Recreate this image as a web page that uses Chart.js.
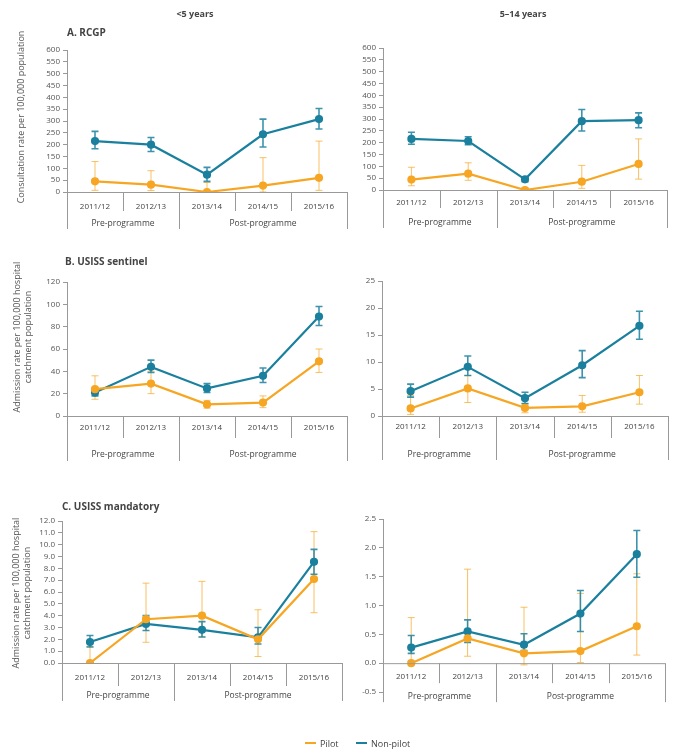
<!DOCTYPE html>
<html>
<head>
<meta charset="utf-8">
<script src="https://cdn.jsdelivr.net/npm/chart.js@4.4.0/dist/chart.umd.min.js"></script>
<style>
  body { margin: 0; background: #fff; font-family: "Open Sans", sans-serif; color: #333; }
  #page { position: relative; width: 676px; height: 755px; overflow: hidden; }
  #page canvas { position: absolute; left: 0; top: 0; }
  .t { position: absolute; white-space: nowrap; }
  .c { transform: translate(-50%, -50%); }
  .head { font-size: 9px; font-weight: bold; color: #444; }
  .panel { font-size: 10px; font-weight: bold; color: #444; transform: translateY(-50%); }
  .ytitle { font-size: 9px; color: #555; text-align: center; line-height: 11px; transform: translate(-50%, -50%) rotate(-90deg); }
  .leg { font-size: 9px; color: #444; transform: translateY(-50%); }
  .legline { position: absolute; height: 2px; width: 11px; }
</style>
</head>
<body>
<div id="page">
  <canvas id="aLeft" width="676" height="755"></canvas>
  <canvas id="aRight" width="676" height="755"></canvas>
  <canvas id="bLeft" width="676" height="755"></canvas>
  <canvas id="bRight" width="676" height="755"></canvas>
  <canvas id="cLeft" width="676" height="755"></canvas>
  <canvas id="cRight" width="676" height="755"></canvas>

  <div class="t c head" style="left:195px;top:13px">&lt;5 years</div>
  <div class="t c head" style="left:523px;top:13px">5–14 years</div>
  <div class="t panel" style="left:67px;top:32px">A. RCGP</div>
  <div class="t panel" style="left:65px;top:261px">B. USISS sentinel</div>
  <div class="t panel" style="left:62px;top:506px">C. USISS mandatory</div>
  <div class="t ytitle" style="left:20px;top:117px">Consultation rate per 100,000 population</div>
  <div class="t ytitle" style="left:22px;top:337px">Admission rate per 100,000 hospital<br>catchment population</div>
  <div class="t ytitle" style="left:21px;top:593px">Admission rate per 100,000 hospital<br>catchment population</div>

  <div class="legline" style="left:305px;top:742px;background:#f6a623"></div>
  <div class="t leg" style="left:320px;top:743px">Pilot</div>
  <div class="legline" style="left:356px;top:742px;background:#1b809e"></div>
  <div class="t leg" style="left:371px;top:743px">Non-pilot</div>
</div>

<script>
const categories = ["2011/12", "2012/13", "2013/14", "2014/15", "2015/16"];
const periods = ["Pre-programme", "Post-programme"];
const periodSpans = [2, 3];

// A. RCGP, <5 years
const rcgpU5Pilot = [45, 31, 0, 27, 60];
const rcgpU5PilotLow = [7, 6, 0, 0, 7];
const rcgpU5PilotHigh = [129, 90, 40, 145, 215];
const rcgpU5Non = [215, 200, 73, 244, 308];
const rcgpU5NonLow = [183, 171, 45, 190, 266];
const rcgpU5NonHigh = [256, 230, 104, 308, 353];

// A. RCGP, 5-14 years
const rcgp514Pilot = [44, 69, 0, 35, 110];
const rcgp514PilotLow = [18, 41, 0, 7, 46];
const rcgp514PilotHigh = [96, 115, 10, 104, 216];
const rcgp514Non = [216, 207, 45, 291, 295];
const rcgp514NonLow = [193, 191, 35, 249, 263];
const rcgp514NonHigh = [244, 225, 52, 340, 326];

// B. USISS sentinel, <5 years
const sentU5Pilot = [24, 29, 10.4, 12, 49];
const sentU5PilotLow = [15, 20, 7, 7.5, 39];
const sentU5PilotHigh = [36, 40, 14, 18, 60];
const sentU5Non = [21, 44, 24.7, 36, 89];
const sentU5NonLow = [18, 39, 21, 30, 81];
const sentU5NonHigh = [24, 50, 29, 43, 98];

// B. USISS sentinel, 5-14 years
const sent514Pilot = [1.4, 5.1, 1.5, 1.8, 4.4];
const sent514PilotLow = [0.3, 2.5, 0.6, 0.7, 2.2];
const sent514PilotHigh = [3.8, 7.5, 2.3, 3.8, 7.5];
const sent514Non = [4.6, 9.1, 3.3, 9.4, 16.7];
const sent514NonLow = [3.5, 7.5, 2.3, 7.1, 14.2];
const sent514NonHigh = [5.9, 11.1, 4.4, 12.1, 19.4];

// C. USISS mandatory, <5 years
const mandU5Pilot = [0, 3.7, 4.0, 2.0, 7.1];
const mandU5PilotLow = [0, 1.75, 2.2, 0.55, 4.25];
const mandU5PilotHigh = [1.4, 6.75, 6.9, 4.5, 11.1];
const mandU5Non = [1.77, 3.3, 2.8, 2.16, 8.55];
const mandU5NonLow = [1.35, 2.75, 2.2, 1.6, 7.5];
const mandU5NonHigh = [2.33, 4.0, 3.5, 3.0, 9.6];

// C. USISS mandatory, 5-14 years
const mand514Pilot = [0, 0.43, 0.17, 0.21, 0.64];
const mand514PilotLow = [0, 0.12, -0.03, 0.01, 0.14];
const mand514PilotHigh = [0.79, 1.63, 0.97, 1.21, 1.55];
const mand514Non = [0.27, 0.55, 0.32, 0.86, 1.89];
const mand514NonLow = [0.17, 0.36, 0.22, 0.55, 1.49];
const mand514NonHigh = [0.48, 0.75, 0.51, 1.26, 2.3];

const PILOT = "#f6a623";
const PILOT_ERR = "rgba(246, 172, 50, 0.75)";
const NONPILOT = "#1b809e";
const NONPILOT_ERR = "rgba(27, 128, 158, 0.85)";
const AXIS = "#999";
const Y_W = 40;

// error bars, drawn under the lines
const errorBars = {
  id: "errorBars",
  beforeDatasetsDraw(chart) {
    const ctx = chart.ctx;
    const y = chart.scales.y;
    chart.data.datasets.forEach((ds, i) => {
      const meta = chart.getDatasetMeta(i);
      ctx.save();
      ctx.strokeStyle = ds.errColor;
      ctx.lineWidth = ds.errWidth;
      meta.data.forEach((pt, j) => {
        const lo = y.getPixelForValue(ds.ciLow[j]);
        const hi = y.getPixelForValue(ds.ciHigh[j]);
        const cap = 3.5;
        ctx.beginPath();
        ctx.moveTo(pt.x, lo);
        ctx.lineTo(pt.x, hi);
        ctx.moveTo(pt.x - cap, lo);
        ctx.lineTo(pt.x + cap, lo);
        ctx.moveTo(pt.x - cap, hi);
        ctx.lineTo(pt.x + cap, hi);
        ctx.stroke();
      });
      ctx.restore();
    });
  },
};

// category boxes under the axis, with the period row
const categoryFrame = {
  id: "categoryFrame",
  afterDraw(chart, args, opts) {
    const ctx = chart.ctx;
    const x = chart.scales.x;
    const y0 = chart.scales.y.getPixelForValue(0);
    const left = x.getPixelForValue(-0.5);
    const right = x.getPixelForValue(categories.length - 0.5);
    const longAt = [0];
    periodSpans.reduce((acc, n) => { longAt.push(acc + n); return acc + n; }, 0);

    ctx.save();
    ctx.strokeStyle = AXIS;
    ctx.lineWidth = 1;
    ctx.beginPath();
    ctx.moveTo(left, y0 + 0.5);
    ctx.lineTo(right, y0 + 0.5);
    for (let i = 0; i <= categories.length; i++) {
      const px = Math.round(x.getPixelForValue(i - 0.5)) + 0.5;
      const len = longAt.includes(i) ? opts.groupLen : opts.divLen;
      ctx.moveTo(px, y0);
      ctx.lineTo(px, y0 + len);
    }
    ctx.stroke();

    ctx.fillStyle = "#444";
    ctx.textAlign = "center";
    ctx.textBaseline = "middle";
    ctx.font = "8px 'Open Sans', sans-serif";
    categories.forEach((c, i) => {
      ctx.fillText(c, x.getPixelForValue(i), y0 + opts.labelOff);
    });
    ctx.font = "8.5px 'Open Sans', sans-serif";
    let start = 0;
    periods.forEach((p, k) => {
      const mid = start + (periodSpans[k] - 1) / 2;
      ctx.fillText(p, x.getPixelForValue(mid), y0 + opts.groupOff);
      start += periodSpans[k];
    });
    ctx.restore();
  },
};

function makePanel(id, box, yScale, pilot, nonPilot, frame) {
  const ctx = document.getElementById(id).getContext("2d");
  return new Chart(ctx, {
    type: "line",
    data: {
      labels: categories,
      datasets: [
        {
          label: "Pilot",
          data: pilot[0],
          ciLow: pilot[1],
          ciHigh: pilot[2],
          errColor: PILOT_ERR,
          errWidth: 1,
          borderColor: PILOT,
          backgroundColor: PILOT,
          borderWidth: 2.2,
          pointRadius: 3,
          tension: 0,
        },
        {
          label: "Non-pilot",
          data: nonPilot[0],
          ciLow: nonPilot[1],
          ciHigh: nonPilot[2],
          errColor: NONPILOT_ERR,
          errWidth: 1.6,
          borderColor: NONPILOT,
          backgroundColor: NONPILOT,
          borderWidth: 2.2,
          pointRadius: 3,
          tension: 0,
        },
      ],
    },
    options: {
      responsive: false,
      animation: false,
      events: [],
      layout: {
        padding: {
          left: box.left - Y_W,
          right: 676 - box.right,
          top: box.top,
          bottom: 755 - box.bottom,
        },
      },
      plugins: {
        legend: { display: false },
        tooltip: { enabled: false },
        categoryFrame: frame,
      },
      scales: {
        x: { type: "category", offset: true, display: false },
        y: {
          min: yScale.min,
          max: yScale.max,
          afterFit: (s) => { s.width = Y_W; },
          afterBuildTicks: (s) => {
            s.ticks = yScale.ticks.map((v) => ({ value: v }));
          },
          ticks: {
            autoSkip: false,
            padding: 3,
            color: "#555",
            font: { size: 8, family: "'Open Sans', sans-serif" },
            callback: (v) => yScale.fmt(v),
          },
          grid: { drawOnChartArea: false, tickLength: 4, color: AXIS },
          border: { color: AXIS },
        },
      },
    },
    plugins: [errorBars, categoryFrame],
  });
}

const rcgpTicks = [0, 50, 100, 150, 200, 250, 300, 350, 400, 450, 500, 550, 600];
const sentU5Ticks = [0, 20, 40, 60, 80, 100, 120];
const sent514Ticks = [0, 5, 10, 15, 20, 25];
const mandU5Ticks = [0, 1, 2, 3, 4, 5, 6, 7, 8, 9, 10, 11, 12];
const mand514Ticks = [-0.5, 0, 0.5, 1, 1.5, 2, 2.5];
const intFmt = (v) => String(v);
const oneDp = (v) => v.toFixed(1);

makePanel("aLeft", { left: 67, right: 347, top: 50, bottom: 192 },
  { min: 0, max: 600, ticks: rcgpTicks, fmt: intFmt },
  [rcgpU5Pilot, rcgpU5PilotLow, rcgpU5PilotHigh],
  [rcgpU5Non, rcgpU5NonLow, rcgpU5NonHigh],
  { labelOff: 15, divLen: 19, groupOff: 32, groupLen: 37 });

makePanel("aRight", { left: 383, right: 667, top: 48, bottom: 190 },
  { min: 0, max: 600, ticks: rcgpTicks, fmt: intFmt },
  [rcgp514Pilot, rcgp514PilotLow, rcgp514PilotHigh],
  [rcgp514Non, rcgp514NonLow, rcgp514NonHigh],
  { labelOff: 13, divLen: 18, groupOff: 33, groupLen: 38 });

makePanel("bLeft", { left: 67, right: 347, top: 282, bottom: 416 },
  { min: 0, max: 120, ticks: sentU5Ticks, fmt: intFmt },
  [sentU5Pilot, sentU5PilotLow, sentU5PilotHigh],
  [sentU5Non, sentU5NonLow, sentU5NonHigh],
  { labelOff: 12, divLen: 22, groupOff: 39, groupLen: 45 });

makePanel("bRight", { left: 382, right: 668, top: 281, bottom: 416 },
  { min: 0, max: 25, ticks: sent514Ticks, fmt: intFmt },
  [sent514Pilot, sent514PilotLow, sent514PilotHigh],
  [sent514Non, sent514NonLow, sent514NonHigh],
  { labelOff: 11, divLen: 22, groupOff: 39, groupLen: 44 });

makePanel("cLeft", { left: 62, right: 342, top: 521, bottom: 663 },
  { min: 0, max: 12, ticks: mandU5Ticks, fmt: oneDp },
  [mandU5Pilot, mandU5PilotLow, mandU5PilotHigh],
  [mandU5Non, mandU5NonLow, mandU5NonHigh],
  { labelOff: 15, divLen: 23, groupOff: 33, groupLen: 38 });

makePanel("cRight", { left: 383, right: 665, top: 519, bottom: 692 },
  { min: -0.5, max: 2.5, ticks: mand514Ticks, fmt: oneDp },
  [mand514Pilot, mand514PilotLow, mand514PilotHigh],
  [mand514Non, mand514NonLow, mand514NonHigh],
  { labelOff: 14, divLen: 20, groupOff: 33, groupLen: 39 });
</script>
</body>
</html>
